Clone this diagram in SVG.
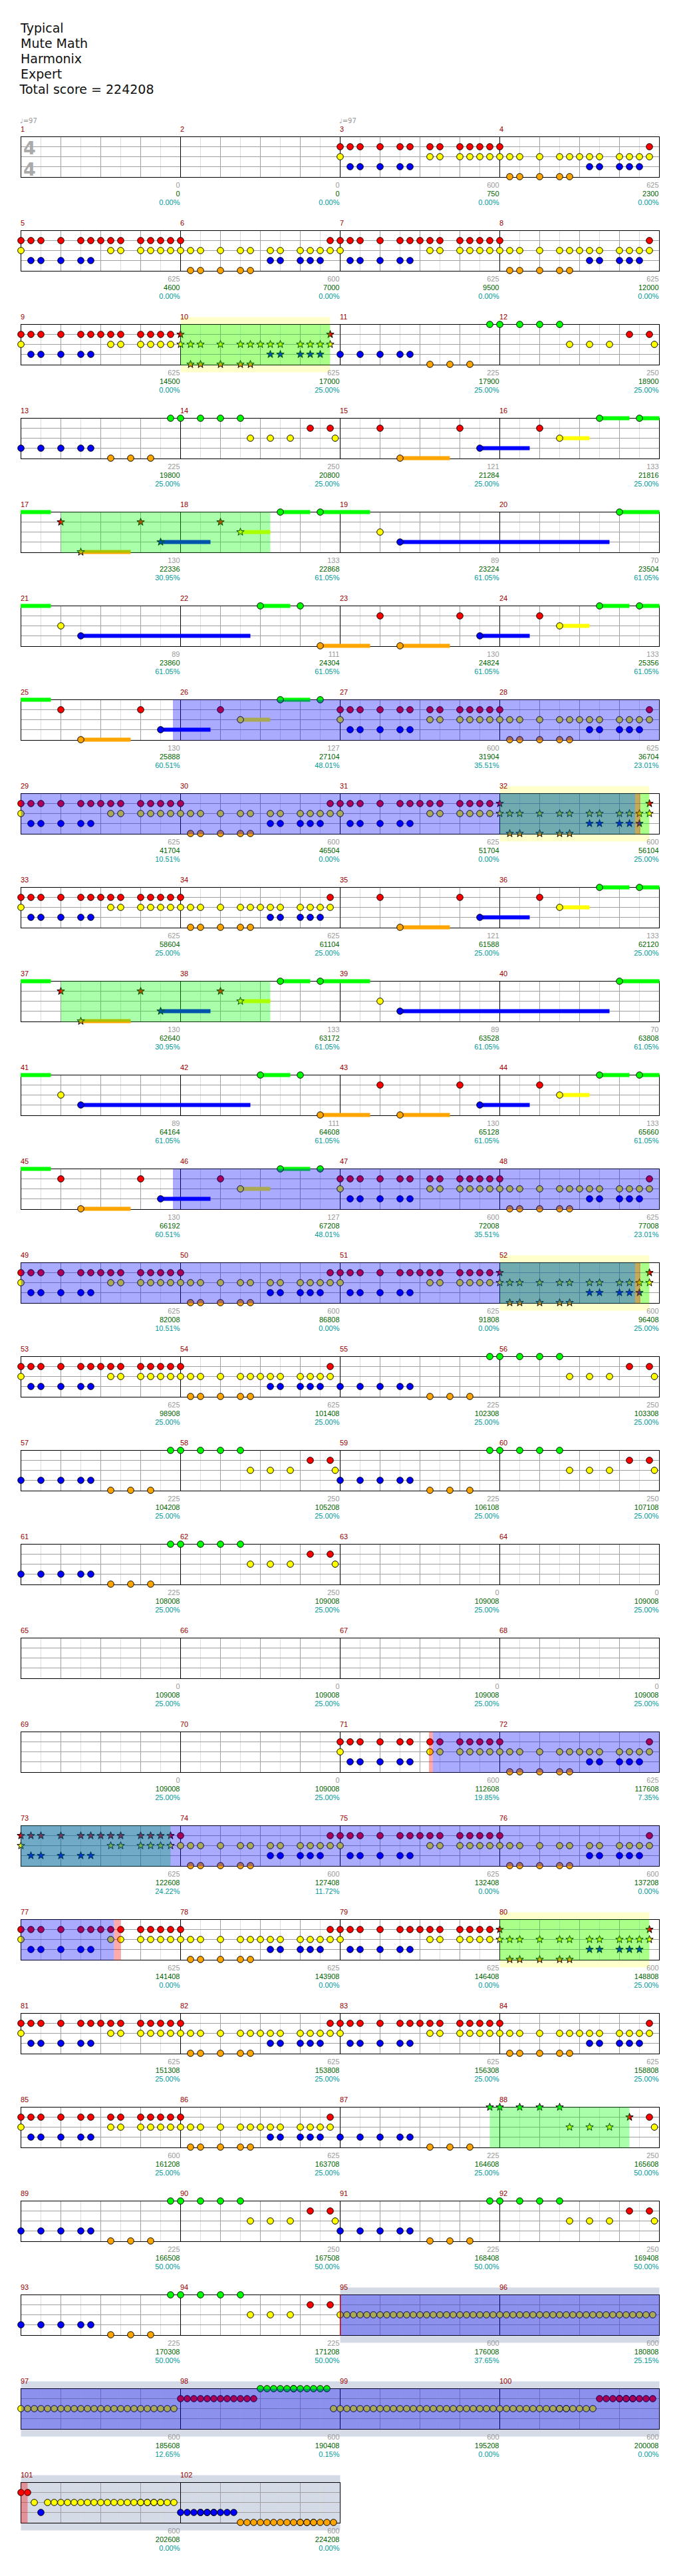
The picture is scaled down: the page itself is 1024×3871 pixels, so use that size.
<svg xmlns="http://www.w3.org/2000/svg" width="1024" height="3871" viewBox="0 0 1024 3871">
<style>
text{font-family:"Liberation Sans",Arial,sans-serif;font-size:11px}
.h{font-family:"DejaVu Sans",sans-serif;font-size:19px;fill:#111}
.tm{font-family:"DejaVu Sans",sans-serif;font-size:10px;fill:#999}
.ts{font-family:"DejaVu Sans",sans-serif;font-size:27px;font-weight:bold;fill:#aaa}
.mn{fill:#900}
.gl{fill:#999;text-anchor:end}
.sc{fill:#006400;text-anchor:end}
.pc{fill:#009999;text-anchor:end}
.lt{stroke:#ddd;stroke-width:1;fill:none}
.dk{stroke:#a0a0a0;stroke-width:1;fill:none}
.bl{stroke:#000;stroke-width:1;fill:none}
.n{stroke:#000;stroke-width:1}
.Bg{fill:#0f0}.Br{fill:#f00}.By{fill:#ff0}.Bb{fill:#00f}.Bo{fill:#ffa500}
.ov{fill:#00f;fill-opacity:.333}
.gv{fill:#0f0;fill-opacity:.333}
.pk{fill:#f00;fill-opacity:.333}
.py{fill:#ffffcc}
.gb{fill:#d4dae6}
</style>
<defs>
<circle id="g" r="4.8" class="n" fill="#0f0"/>
<circle id="r" cy="15" r="4.8" class="n" fill="#f00"/>
<circle id="y" cy="30" r="4.8" class="n" fill="#ff0"/>
<circle id="b" cy="45" r="4.8" class="n" fill="#00f"/>
<circle id="o" cy="60" r="4.8" class="n" fill="#ffa500"/>
<path id="S" d="M0-6L1.41-1.94 5.71-1.85 2.28.74 3.53 4.85 0 2.4-3.53 4.85-2.28.74-5.71-1.85-1.41-1.94Z"/>
<use id="sg" href="#S" class="n" fill="#0f0"/>
<use id="sr" href="#S" y="15" class="n" fill="#f00"/>
<use id="sy" href="#S" y="30" class="n" fill="#ff0"/>
<use id="sb" href="#S" y="45" class="n" fill="#00f"/>
<use id="so" href="#S" y="60" class="n" fill="#ffa500"/>
<g id="row">
<path class="lt" d="M61.5 0v61M121.5 0v61M181.5 0v61M241.5 0v61M301.5 0v61M361.5 0v61M421.5 0v61M481.5 0v61M541.5 0v61M601.5 0v61M661.5 0v61M721.5 0v61M781.5 0v61M841.5 0v61M901.5 0v61M961.5 0v61"/>
<path class="dk" d="M91.5 0v61M151.5 0v61M211.5 0v61M331.5 0v61M391.5 0v61M451.5 0v61M571.5 0v61M631.5 0v61M691.5 0v61M811.5 0v61M871.5 0v61M931.5 0v61M31.5 15H991.5M31.5 30H991.5M31.5 45H991.5"/>
<path class="bl" d="M271.5 0v61M511.5 0v61M751.5 0v61"/>
<rect class="bl" x="31.5" y="0" width="960" height="61"/>
</g>
<g id="row2">
<path class="lt" d="M61.5 0v61M121.5 0v61M181.5 0v61M241.5 0v61M301.5 0v61M361.5 0v61M421.5 0v61M481.5 0v61"/>
<path class="dk" d="M91.5 0v61M151.5 0v61M211.5 0v61M331.5 0v61M391.5 0v61M451.5 0v61M31.5 15H511.5M31.5 30H511.5M31.5 45H511.5"/>
<path class="bl" d="M271.5 0v61"/>
<rect class="bl" x="31.5" y="0" width="480" height="61"/>
</g>
<g id="P3"><use href="#r"/><use href="#r" x="15"/><use href="#r" x="30"/><use href="#r" x="60"/><use href="#r" x="90"/><use href="#r" x="105"/><use href="#r" x="135"/><use href="#r" x="150"/><use href="#r" x="180"/><use href="#r" x="195"/><use href="#r" x="210"/><use href="#r" x="225"/><use href="#y"/><use href="#y" x="135"/><use href="#y" x="150"/><use href="#y" x="180"/><use href="#y" x="195"/><use href="#y" x="210"/><use href="#y" x="225"/><use href="#b" x="15"/><use href="#b" x="30"/><use href="#b" x="60"/><use href="#b" x="90"/><use href="#b" x="105"/></g>
<g id="P5"><use href="#P3"/><use href="#r" x="120"/></g>
<g id="P6"><use href="#r"/><use href="#r" x="225"/><use href="#y"/><use href="#y" x="15"/><use href="#y" x="30"/><use href="#y" x="60"/><use href="#y" x="90"/><use href="#y" x="105"/><use href="#y" x="135"/><use href="#y" x="150"/><use href="#y" x="180"/><use href="#y" x="195"/><use href="#y" x="210"/><use href="#y" x="225"/><use href="#b" x="135"/><use href="#b" x="150"/><use href="#b" x="180"/><use href="#b" x="195"/><use href="#b" x="210"/><use href="#o" x="15"/><use href="#o" x="30"/><use href="#o" x="60"/><use href="#o" x="90"/><use href="#o" x="105"/></g>
<g id="P4"><use href="#P6"/><use href="#y" x="120"/></g>
<g id="P6S"><use href="#sr"/><use href="#sr" x="225"/><use href="#sy"/><use href="#sy" x="15"/><use href="#sy" x="30"/><use href="#sy" x="60"/><use href="#sy" x="90"/><use href="#sy" x="105"/><use href="#sy" x="135"/><use href="#sy" x="150"/><use href="#sy" x="180"/><use href="#sy" x="195"/><use href="#sy" x="210"/><use href="#sy" x="225"/><use href="#sb" x="135"/><use href="#sb" x="150"/><use href="#sb" x="180"/><use href="#sb" x="195"/><use href="#sb" x="210"/><use href="#so" x="15"/><use href="#so" x="30"/><use href="#so" x="60"/><use href="#so" x="90"/><use href="#so" x="105"/></g>
<g id="P4S"><use href="#P6S"/><use href="#sy" x="120"/></g>
<g id="P5S"><use href="#sr"/><use href="#sr" x="15"/><use href="#sr" x="30"/><use href="#sr" x="60"/><use href="#sr" x="90"/><use href="#sr" x="105"/><use href="#sr" x="120"/><use href="#sr" x="135"/><use href="#sr" x="150"/><use href="#sr" x="180"/><use href="#sr" x="195"/><use href="#sr" x="210"/><use href="#sr" x="225"/><use href="#sy"/><use href="#sy" x="135"/><use href="#sy" x="150"/><use href="#sy" x="180"/><use href="#sy" x="195"/><use href="#sy" x="210"/><use href="#sy" x="225"/><use href="#sb" x="15"/><use href="#sb" x="30"/><use href="#sb" x="60"/><use href="#sb" x="90"/><use href="#sb" x="105"/></g>
<g id="A0"><use href="#b"/><use href="#b" x="30"/><use href="#b" x="60"/><use href="#b" x="90"/><use href="#b" x="105"/><use href="#o" x="135"/><use href="#o" x="165"/><use href="#o" x="195"/></g>
<g id="A"><use href="#A0"/><use href="#g" x="225"/></g>
<g id="AS"><use href="#A0"/><use href="#sg" x="225"/></g>
<g id="B2"><use href="#g"/><use href="#g" x="30"/><use href="#g" x="60"/><use href="#g" x="90"/><use href="#y" x="105"/><use href="#y" x="135"/><use href="#y" x="165"/><use href="#r" x="195"/><use href="#r" x="225"/></g>
<g id="B"><use href="#B2"/><use href="#y" x="232.5"/></g>
<g id="BS"><use href="#sg"/><use href="#sg" x="30"/><use href="#sg" x="60"/><use href="#sg" x="90"/><use href="#sy" x="105"/><use href="#sy" x="135"/><use href="#sy" x="165"/><use href="#sr" x="195"/><use href="#r" x="225"/><use href="#y" x="232.5"/></g>
<g id="C"><rect class="Bo" x="90" y="57" width="75" height="6"/><rect class="Bb" x="210" y="42" width="75" height="6"/><use href="#r" x="60"/><use href="#o" x="90"/><use href="#r" x="180"/><use href="#b" x="210"/></g>
<g id="Cg"><rect class="Bg" x="-0.5" y="-3" width="45.5" height="6"/><use href="#C"/></g>
<g id="D"><rect class="By" x="90" y="27" width="45" height="6"/><rect class="Bg" x="150" y="-3" width="45" height="6"/><rect class="Bg" x="210" y="-3" width="30" height="6"/><use href="#r" x="60"/><use href="#y" x="90"/><use href="#g" x="150"/><use href="#g" x="210"/></g>
<g id="E"><rect class="Bg" x="-0.5" y="-3" width="45.5" height="6"/><rect class="Bo" x="90" y="57" width="75" height="6"/><rect class="Bb" x="210" y="42" width="75" height="6"/><use href="#sr" x="60"/><use href="#so" x="90"/><use href="#sr" x="180"/><use href="#sb" x="210"/></g>
<g id="F"><rect class="By" x="90" y="27" width="45" height="6"/><rect class="Bg" x="150" y="-3" width="45" height="6"/><rect class="Bg" x="210" y="-3" width="75" height="6"/><use href="#sr" x="60"/><use href="#sy" x="90"/><use href="#g" x="150"/><use href="#g" x="210"/></g>
<g id="G"><rect class="Bb" x="90" y="42" width="315" height="6"/><use href="#y" x="60"/><use href="#b" x="90"/></g>
<g id="H"><rect class="Bg" x="180" y="-3" width="60" height="6"/><use href="#g" x="180"/></g>
<g id="I"><rect class="Bg" x="-0.5" y="-3" width="45.5" height="6"/><rect class="Bb" x="90" y="42" width="255" height="6"/><use href="#y" x="60"/><use href="#b" x="90"/></g>
<g id="J"><rect class="Bg" x="120" y="-3" width="45" height="6"/><rect class="Bo" x="210" y="57" width="75" height="6"/><use href="#g" x="120"/><use href="#g" x="180"/><use href="#o" x="210"/></g>
<g id="K"><rect class="By" x="90" y="27" width="45" height="6"/><rect class="Bg" x="150" y="-3" width="45" height="6"/><use href="#r" x="60"/><use href="#y" x="90"/><use href="#g" x="150"/><use href="#g" x="210"/></g>
<g id="Y6"><use href="#y"/><use href="#y" x="10"/><use href="#y" x="20"/><use href="#y" x="30"/><use href="#y" x="40"/><use href="#y" x="50"/></g>
<g id="R6"><use href="#r"/><use href="#r" x="10"/><use href="#r" x="20"/><use href="#r" x="30"/><use href="#r" x="40"/><use href="#r" x="50"/></g>
<g id="G6"><use href="#g"/><use href="#g" x="10"/><use href="#g" x="20"/><use href="#g" x="30"/><use href="#g" x="40"/><use href="#g" x="50"/></g>
<g id="B6"><use href="#b"/><use href="#b" x="10"/><use href="#b" x="20"/><use href="#b" x="30"/><use href="#b" x="40"/><use href="#b" x="50"/></g>
<g id="O6"><use href="#o"/><use href="#o" x="10"/><use href="#o" x="20"/><use href="#o" x="30"/><use href="#o" x="40"/><use href="#o" x="50"/></g>
</defs>
<rect width="1024" height="3871" fill="#fff"/>
<g id="header">
<text class="h" x="31" y="48.5">Typical</text>
<text class="h" x="31" y="71.5">Mute Math</text>
<text class="h" x="31" y="94.5">Harmonix</text>
<text class="h" x="31" y="117.5">Expert</text>
<text class="h" x="29.5" y="140.5">Total score = 224208</text>
<text class="tm" x="30" y="185">♩=97</text>
<text class="tm" x="510" y="185">♩=97</text>
</g>
<g id="backgrounds">
<rect class="py" x="271.5" y="476.5" width="225" height="83"/>
<rect class="py" x="751.5" y="1181.5" width="225" height="83"/>
<rect class="py" x="751.5" y="1886.5" width="225" height="83"/>
<rect class="py" x="751.5" y="2873.5" width="225" height="83"/>
<rect class="gb" x="511.5" y="3437.5" width="480" height="83"/>
<rect class="gb" x="31.5" y="3578.5" width="960" height="83"/>
<rect class="gb" x="31.5" y="3719.5" width="480" height="83"/>
</g>
<g id="staves">
<use href="#row" y="205.5"/><use href="#row" y="346.5"/><use href="#row" y="487.5"/><use href="#row" y="628.5"/><use href="#row" y="769.5"/><use href="#row" y="910.5"/><use href="#row" y="1051.5"/><use href="#row" y="1192.5"/><use href="#row" y="1333.5"/><use href="#row" y="1474.5"/><use href="#row" y="1615.5"/><use href="#row" y="1756.5"/><use href="#row" y="1897.5"/><use href="#row" y="2038.5"/><use href="#row" y="2179.5"/><use href="#row" y="2320.5"/><use href="#row" y="2461.5"/><use href="#row" y="2602.5"/><use href="#row" y="2743.5"/><use href="#row" y="2884.5"/><use href="#row" y="3025.5"/><use href="#row" y="3166.5"/><use href="#row" y="3307.5"/><use href="#row" y="3448.5"/><use href="#row" y="3589.5"/><use href="#row2" y="3730.5"/>
<text class="ts" x="35" y="231.5">4</text>
<text class="ts" x="35" y="263.5">4</text>
</g>
<g id="notes">
<use href="#P3" x="511.5" y="205.5"/><use href="#P4" x="751.5" y="205.5"/>
<use href="#P5" x="31.5" y="346.5"/><use href="#P6" x="271.5" y="346.5"/><use href="#P5" x="511.5" y="346.5"/><use href="#P4" x="751.5" y="346.5"/>
<use href="#P5" x="31.5" y="487.5"/><use href="#P4S" x="271.5" y="487.5"/><use href="#A" x="511.5" y="487.5"/><use href="#B" x="751.5" y="487.5"/>
<use href="#A" x="31.5" y="628.5"/><use href="#B" x="271.5" y="628.5"/><use href="#C" x="511.5" y="628.5"/><use href="#D" x="751.5" y="628.5"/>
<use href="#E" x="31.5" y="769.5"/><use href="#F" x="271.5" y="769.5"/><use href="#G" x="511.5" y="769.5"/><use href="#H" x="751.5" y="769.5"/>
<use href="#I" x="31.5" y="910.5"/><use href="#J" x="271.5" y="910.5"/><use href="#C" x="511.5" y="910.5"/><use href="#D" x="751.5" y="910.5"/>
<use href="#Cg" x="31.5" y="1051.5"/><use href="#K" x="271.5" y="1051.5"/><use href="#P3" x="511.5" y="1051.5"/><use href="#P4" x="751.5" y="1051.5"/>
<use href="#P5" x="31.5" y="1192.5"/><use href="#P6" x="271.5" y="1192.5"/><use href="#P5" x="511.5" y="1192.5"/><use href="#P6S" x="751.5" y="1192.5"/>
<use href="#P5" x="31.5" y="1333.5"/><use href="#P4" x="271.5" y="1333.5"/><use href="#C" x="511.5" y="1333.5"/><use href="#D" x="751.5" y="1333.5"/>
<use href="#E" x="31.5" y="1474.5"/><use href="#F" x="271.5" y="1474.5"/><use href="#G" x="511.5" y="1474.5"/><use href="#H" x="751.5" y="1474.5"/>
<use href="#I" x="31.5" y="1615.5"/><use href="#J" x="271.5" y="1615.5"/><use href="#C" x="511.5" y="1615.5"/><use href="#D" x="751.5" y="1615.5"/>
<use href="#Cg" x="31.5" y="1756.5"/><use href="#K" x="271.5" y="1756.5"/><use href="#P3" x="511.5" y="1756.5"/><use href="#P4" x="751.5" y="1756.5"/>
<use href="#P5" x="31.5" y="1897.5"/><use href="#P6" x="271.5" y="1897.5"/><use href="#P5" x="511.5" y="1897.5"/><use href="#P6S" x="751.5" y="1897.5"/>
<use href="#P5" x="31.5" y="2038.5"/><use href="#P4" x="271.5" y="2038.5"/><use href="#A" x="511.5" y="2038.5"/><use href="#B" x="751.5" y="2038.5"/>
<use href="#A" x="31.5" y="2179.5"/><use href="#B" x="271.5" y="2179.5"/><use href="#A" x="511.5" y="2179.5"/><use href="#B" x="751.5" y="2179.5"/>
<use href="#A" x="31.5" y="2320.5"/><use href="#B" x="271.5" y="2320.5"/>
<use href="#P3" x="511.5" y="2602.5"/><use href="#P4" x="751.5" y="2602.5"/>
<use href="#P5S" x="31.5" y="2743.5"/><use href="#P6" x="271.5" y="2743.5"/><use href="#P5" x="511.5" y="2743.5"/><use href="#P6" x="751.5" y="2743.5"/>
<use href="#P5" x="31.5" y="2884.5"/><use href="#P4" x="271.5" y="2884.5"/><use href="#P5" x="511.5" y="2884.5"/><use href="#P6S" x="751.5" y="2884.5"/>
<use href="#P5" x="31.5" y="3025.5"/><use href="#P4" x="271.5" y="3025.5"/><use href="#P5" x="511.5" y="3025.5"/><use href="#P4" x="751.5" y="3025.5"/>
<use href="#P3" x="31.5" y="3166.5"/><use href="#P4" x="271.5" y="3166.5"/><use href="#AS" x="511.5" y="3166.5"/><use href="#BS" x="751.5" y="3166.5"/>
<use href="#A" x="31.5" y="3307.5"/><use href="#B" x="271.5" y="3307.5"/><use href="#A" x="511.5" y="3307.5"/><use href="#B" x="751.5" y="3307.5"/>
<use href="#A" x="31.5" y="3448.5"/><use href="#B2" x="271.5" y="3448.5"/>
<use href="#Y6" x="511.5" y="3448.5"/><use href="#Y6" x="571.5" y="3448.5"/><use href="#Y6" x="631.5" y="3448.5"/><use href="#Y6" x="691.5" y="3448.5"/><use href="#Y6" x="751.5" y="3448.5"/><use href="#Y6" x="811.5" y="3448.5"/><use href="#Y6" x="871.5" y="3448.5"/><use href="#Y6" x="931.5" y="3448.5"/>
<use href="#Y6" x="31.5" y="3589.5"/><use href="#Y6" x="91.5" y="3589.5"/><use href="#Y6" x="151.5" y="3589.5"/><use href="#Y6" x="211.5" y="3589.5"/>
<use href="#R6" x="271.5" y="3589.5"/><use href="#R6" x="331.5" y="3589.5"/>
<use href="#G6" x="391.5" y="3589.5"/><use href="#G6" x="441.5" y="3589.5"/>
<use href="#Y6" x="501.5" y="3589.5"/><use href="#Y6" x="561.5" y="3589.5"/><use href="#Y6" x="621.5" y="3589.5"/><use href="#Y6" x="681.5" y="3589.5"/><use href="#Y6" x="741.5" y="3589.5"/><use href="#Y6" x="801.5" y="3589.5"/><use href="#Y6" x="841.5" y="3589.5"/>
<use href="#R6" x="901.5" y="3589.5"/><use href="#R6" x="931.5" y="3589.5"/>
<use href="#r" x="31.5" y="3730.5"/><use href="#r" x="41.5" y="3730.5"/><use href="#y" x="51.5" y="3730.5"/><use href="#b" x="61.5" y="3730.5"/>
<use href="#Y6" x="71.5" y="3730.5"/><use href="#Y6" x="131.5" y="3730.5"/><use href="#Y6" x="191.5" y="3730.5"/><use href="#Y6" x="211.5" y="3730.5"/>
<use href="#B6" x="271.5" y="3730.5"/><use href="#B6" x="301.5" y="3730.5"/>
<use href="#O6" x="361.5" y="3730.5"/><use href="#O6" x="421.5" y="3730.5"/><use href="#O6" x="451.5" y="3730.5"/>
</g>
<g id="overlays">
<rect class="gv" x="271.5" y="487.5" width="225" height="61"/>
<rect class="gv" x="91.5" y="769.5" width="315" height="61"/>
<rect class="gv" x="751.5" y="1192.5" width="225" height="61"/>
<rect class="gv" x="91.5" y="1474.5" width="315" height="61"/>
<rect class="gv" x="751.5" y="1897.5" width="225" height="61"/>
<rect class="gv" x="31.5" y="2743.5" width="225" height="61"/>
<rect class="gv" x="751.5" y="2884.5" width="225" height="61"/>
<rect class="gv" x="736.5" y="3166.5" width="210" height="61"/>
<rect class="ov" x="260" y="1051.5" width="731.5" height="61"/>
<rect class="ov" x="31.5" y="1192.5" width="923.5" height="61"/>
<rect class="ov" x="260" y="1756.5" width="731.5" height="61"/>
<rect class="ov" x="31.5" y="1897.5" width="923.5" height="61"/>
<rect class="ov" x="651" y="2602.5" width="340.5" height="61"/>
<rect class="ov" x="31.5" y="2743.5" width="960" height="61"/>
<rect class="ov" x="31.5" y="2884.5" width="140" height="61"/>
<rect class="ov" x="511.5" y="3448.5" width="480" height="61"/>
<rect class="ov" x="31.5" y="3589.5" width="960" height="61"/>
<rect class="pk" x="955" y="1192.5" width="8" height="61"/>
<rect class="pk" x="955" y="1897.5" width="8" height="61"/>
<rect class="pk" x="645" y="2602.5" width="6" height="61"/>
<rect class="pk" x="171.5" y="2884.5" width="10" height="61"/>
<rect class="pk" x="31.5" y="3730.5" width="10" height="61"/>
<rect fill="#d00" x="511" y="3448.5" width="1.5" height="61"/>
</g>
<g id="labels">
<g transform="translate(0,205.5)"><text class="mn" y="-7.5"><tspan x="31">1</tspan><tspan x="271">2</tspan><tspan x="511">3</tspan><tspan x="751">4</tspan></text><text class="gl" y="76"><tspan x="270.5">0</tspan><tspan x="510.5">0</tspan><tspan x="750.5">600</tspan><tspan x="990.5">625</tspan></text><text class="sc" y="89.3"><tspan x="270.5">0</tspan><tspan x="510.5">0</tspan><tspan x="750.5">750</tspan><tspan x="990.5">2300</tspan></text><text class="pc" y="102.5"><tspan x="270.5">0.00%</tspan><tspan x="510.5">0.00%</tspan><tspan x="750.5">0.00%</tspan><tspan x="990.5">0.00%</tspan></text></g>
<g transform="translate(0,346.5)"><text class="mn" y="-7.5"><tspan x="31">5</tspan><tspan x="271">6</tspan><tspan x="511">7</tspan><tspan x="751">8</tspan></text><text class="gl" y="76"><tspan x="270.5">625</tspan><tspan x="510.5">600</tspan><tspan x="750.5">625</tspan><tspan x="990.5">625</tspan></text><text class="sc" y="89.3"><tspan x="270.5">4600</tspan><tspan x="510.5">7000</tspan><tspan x="750.5">9500</tspan><tspan x="990.5">12000</tspan></text><text class="pc" y="102.5"><tspan x="270.5">0.00%</tspan><tspan x="510.5">0.00%</tspan><tspan x="750.5">0.00%</tspan><tspan x="990.5">0.00%</tspan></text></g>
<g transform="translate(0,487.5)"><text class="mn" y="-7.5"><tspan x="31">9</tspan><tspan x="271">10</tspan><tspan x="511">11</tspan><tspan x="751">12</tspan></text><text class="gl" y="76"><tspan x="270.5">625</tspan><tspan x="510.5">625</tspan><tspan x="750.5">225</tspan><tspan x="990.5">250</tspan></text><text class="sc" y="89.3"><tspan x="270.5">14500</tspan><tspan x="510.5">17000</tspan><tspan x="750.5">17900</tspan><tspan x="990.5">18900</tspan></text><text class="pc" y="102.5"><tspan x="270.5">0.00%</tspan><tspan x="510.5">25.00%</tspan><tspan x="750.5">25.00%</tspan><tspan x="990.5">25.00%</tspan></text></g>
<g transform="translate(0,628.5)"><text class="mn" y="-7.5"><tspan x="31">13</tspan><tspan x="271">14</tspan><tspan x="511">15</tspan><tspan x="751">16</tspan></text><text class="gl" y="76"><tspan x="270.5">225</tspan><tspan x="510.5">250</tspan><tspan x="750.5">121</tspan><tspan x="990.5">133</tspan></text><text class="sc" y="89.3"><tspan x="270.5">19800</tspan><tspan x="510.5">20800</tspan><tspan x="750.5">21284</tspan><tspan x="990.5">21816</tspan></text><text class="pc" y="102.5"><tspan x="270.5">25.00%</tspan><tspan x="510.5">25.00%</tspan><tspan x="750.5">25.00%</tspan><tspan x="990.5">25.00%</tspan></text></g>
<g transform="translate(0,769.5)"><text class="mn" y="-7.5"><tspan x="31">17</tspan><tspan x="271">18</tspan><tspan x="511">19</tspan><tspan x="751">20</tspan></text><text class="gl" y="76"><tspan x="270.5">130</tspan><tspan x="510.5">133</tspan><tspan x="750.5">89</tspan><tspan x="990.5">70</tspan></text><text class="sc" y="89.3"><tspan x="270.5">22336</tspan><tspan x="510.5">22868</tspan><tspan x="750.5">23224</tspan><tspan x="990.5">23504</tspan></text><text class="pc" y="102.5"><tspan x="270.5">30.95%</tspan><tspan x="510.5">61.05%</tspan><tspan x="750.5">61.05%</tspan><tspan x="990.5">61.05%</tspan></text></g>
<g transform="translate(0,910.5)"><text class="mn" y="-7.5"><tspan x="31">21</tspan><tspan x="271">22</tspan><tspan x="511">23</tspan><tspan x="751">24</tspan></text><text class="gl" y="76"><tspan x="270.5">89</tspan><tspan x="510.5">111</tspan><tspan x="750.5">130</tspan><tspan x="990.5">133</tspan></text><text class="sc" y="89.3"><tspan x="270.5">23860</tspan><tspan x="510.5">24304</tspan><tspan x="750.5">24824</tspan><tspan x="990.5">25356</tspan></text><text class="pc" y="102.5"><tspan x="270.5">61.05%</tspan><tspan x="510.5">61.05%</tspan><tspan x="750.5">61.05%</tspan><tspan x="990.5">61.05%</tspan></text></g>
<g transform="translate(0,1051.5)"><text class="mn" y="-7.5"><tspan x="31">25</tspan><tspan x="271">26</tspan><tspan x="511">27</tspan><tspan x="751">28</tspan></text><text class="gl" y="76"><tspan x="270.5">130</tspan><tspan x="510.5">127</tspan><tspan x="750.5">600</tspan><tspan x="990.5">625</tspan></text><text class="sc" y="89.3"><tspan x="270.5">25888</tspan><tspan x="510.5">27104</tspan><tspan x="750.5">31904</tspan><tspan x="990.5">36704</tspan></text><text class="pc" y="102.5"><tspan x="270.5">60.51%</tspan><tspan x="510.5">48.01%</tspan><tspan x="750.5">35.51%</tspan><tspan x="990.5">23.01%</tspan></text></g>
<g transform="translate(0,1192.5)"><text class="mn" y="-7.5"><tspan x="31">29</tspan><tspan x="271">30</tspan><tspan x="511">31</tspan><tspan x="751">32</tspan></text><text class="gl" y="76"><tspan x="270.5">625</tspan><tspan x="510.5">600</tspan><tspan x="750.5">625</tspan><tspan x="990.5">600</tspan></text><text class="sc" y="89.3"><tspan x="270.5">41704</tspan><tspan x="510.5">46504</tspan><tspan x="750.5">51704</tspan><tspan x="990.5">56104</tspan></text><text class="pc" y="102.5"><tspan x="270.5">10.51%</tspan><tspan x="510.5">0.00%</tspan><tspan x="750.5">0.00%</tspan><tspan x="990.5">25.00%</tspan></text></g>
<g transform="translate(0,1333.5)"><text class="mn" y="-7.5"><tspan x="31">33</tspan><tspan x="271">34</tspan><tspan x="511">35</tspan><tspan x="751">36</tspan></text><text class="gl" y="76"><tspan x="270.5">625</tspan><tspan x="510.5">625</tspan><tspan x="750.5">121</tspan><tspan x="990.5">133</tspan></text><text class="sc" y="89.3"><tspan x="270.5">58604</tspan><tspan x="510.5">61104</tspan><tspan x="750.5">61588</tspan><tspan x="990.5">62120</tspan></text><text class="pc" y="102.5"><tspan x="270.5">25.00%</tspan><tspan x="510.5">25.00%</tspan><tspan x="750.5">25.00%</tspan><tspan x="990.5">25.00%</tspan></text></g>
<g transform="translate(0,1474.5)"><text class="mn" y="-7.5"><tspan x="31">37</tspan><tspan x="271">38</tspan><tspan x="511">39</tspan><tspan x="751">40</tspan></text><text class="gl" y="76"><tspan x="270.5">130</tspan><tspan x="510.5">133</tspan><tspan x="750.5">89</tspan><tspan x="990.5">70</tspan></text><text class="sc" y="89.3"><tspan x="270.5">62640</tspan><tspan x="510.5">63172</tspan><tspan x="750.5">63528</tspan><tspan x="990.5">63808</tspan></text><text class="pc" y="102.5"><tspan x="270.5">30.95%</tspan><tspan x="510.5">61.05%</tspan><tspan x="750.5">61.05%</tspan><tspan x="990.5">61.05%</tspan></text></g>
<g transform="translate(0,1615.5)"><text class="mn" y="-7.5"><tspan x="31">41</tspan><tspan x="271">42</tspan><tspan x="511">43</tspan><tspan x="751">44</tspan></text><text class="gl" y="76"><tspan x="270.5">89</tspan><tspan x="510.5">111</tspan><tspan x="750.5">130</tspan><tspan x="990.5">133</tspan></text><text class="sc" y="89.3"><tspan x="270.5">64164</tspan><tspan x="510.5">64608</tspan><tspan x="750.5">65128</tspan><tspan x="990.5">65660</tspan></text><text class="pc" y="102.5"><tspan x="270.5">61.05%</tspan><tspan x="510.5">61.05%</tspan><tspan x="750.5">61.05%</tspan><tspan x="990.5">61.05%</tspan></text></g>
<g transform="translate(0,1756.5)"><text class="mn" y="-7.5"><tspan x="31">45</tspan><tspan x="271">46</tspan><tspan x="511">47</tspan><tspan x="751">48</tspan></text><text class="gl" y="76"><tspan x="270.5">130</tspan><tspan x="510.5">127</tspan><tspan x="750.5">600</tspan><tspan x="990.5">625</tspan></text><text class="sc" y="89.3"><tspan x="270.5">66192</tspan><tspan x="510.5">67208</tspan><tspan x="750.5">72008</tspan><tspan x="990.5">77008</tspan></text><text class="pc" y="102.5"><tspan x="270.5">60.51%</tspan><tspan x="510.5">48.01%</tspan><tspan x="750.5">35.51%</tspan><tspan x="990.5">23.01%</tspan></text></g>
<g transform="translate(0,1897.5)"><text class="mn" y="-7.5"><tspan x="31">49</tspan><tspan x="271">50</tspan><tspan x="511">51</tspan><tspan x="751">52</tspan></text><text class="gl" y="76"><tspan x="270.5">625</tspan><tspan x="510.5">600</tspan><tspan x="750.5">625</tspan><tspan x="990.5">600</tspan></text><text class="sc" y="89.3"><tspan x="270.5">82008</tspan><tspan x="510.5">86808</tspan><tspan x="750.5">91808</tspan><tspan x="990.5">96408</tspan></text><text class="pc" y="102.5"><tspan x="270.5">10.51%</tspan><tspan x="510.5">0.00%</tspan><tspan x="750.5">0.00%</tspan><tspan x="990.5">25.00%</tspan></text></g>
<g transform="translate(0,2038.5)"><text class="mn" y="-7.5"><tspan x="31">53</tspan><tspan x="271">54</tspan><tspan x="511">55</tspan><tspan x="751">56</tspan></text><text class="gl" y="76"><tspan x="270.5">625</tspan><tspan x="510.5">625</tspan><tspan x="750.5">225</tspan><tspan x="990.5">250</tspan></text><text class="sc" y="89.3"><tspan x="270.5">98908</tspan><tspan x="510.5">101408</tspan><tspan x="750.5">102308</tspan><tspan x="990.5">103308</tspan></text><text class="pc" y="102.5"><tspan x="270.5">25.00%</tspan><tspan x="510.5">25.00%</tspan><tspan x="750.5">25.00%</tspan><tspan x="990.5">25.00%</tspan></text></g>
<g transform="translate(0,2179.5)"><text class="mn" y="-7.5"><tspan x="31">57</tspan><tspan x="271">58</tspan><tspan x="511">59</tspan><tspan x="751">60</tspan></text><text class="gl" y="76"><tspan x="270.5">225</tspan><tspan x="510.5">250</tspan><tspan x="750.5">225</tspan><tspan x="990.5">250</tspan></text><text class="sc" y="89.3"><tspan x="270.5">104208</tspan><tspan x="510.5">105208</tspan><tspan x="750.5">106108</tspan><tspan x="990.5">107108</tspan></text><text class="pc" y="102.5"><tspan x="270.5">25.00%</tspan><tspan x="510.5">25.00%</tspan><tspan x="750.5">25.00%</tspan><tspan x="990.5">25.00%</tspan></text></g>
<g transform="translate(0,2320.5)"><text class="mn" y="-7.5"><tspan x="31">61</tspan><tspan x="271">62</tspan><tspan x="511">63</tspan><tspan x="751">64</tspan></text><text class="gl" y="76"><tspan x="270.5">225</tspan><tspan x="510.5">250</tspan><tspan x="750.5">0</tspan><tspan x="990.5">0</tspan></text><text class="sc" y="89.3"><tspan x="270.5">108008</tspan><tspan x="510.5">109008</tspan><tspan x="750.5">109008</tspan><tspan x="990.5">109008</tspan></text><text class="pc" y="102.5"><tspan x="270.5">25.00%</tspan><tspan x="510.5">25.00%</tspan><tspan x="750.5">25.00%</tspan><tspan x="990.5">25.00%</tspan></text></g>
<g transform="translate(0,2461.5)"><text class="mn" y="-7.5"><tspan x="31">65</tspan><tspan x="271">66</tspan><tspan x="511">67</tspan><tspan x="751">68</tspan></text><text class="gl" y="76"><tspan x="270.5">0</tspan><tspan x="510.5">0</tspan><tspan x="750.5">0</tspan><tspan x="990.5">0</tspan></text><text class="sc" y="89.3"><tspan x="270.5">109008</tspan><tspan x="510.5">109008</tspan><tspan x="750.5">109008</tspan><tspan x="990.5">109008</tspan></text><text class="pc" y="102.5"><tspan x="270.5">25.00%</tspan><tspan x="510.5">25.00%</tspan><tspan x="750.5">25.00%</tspan><tspan x="990.5">25.00%</tspan></text></g>
<g transform="translate(0,2602.5)"><text class="mn" y="-7.5"><tspan x="31">69</tspan><tspan x="271">70</tspan><tspan x="511">71</tspan><tspan x="751">72</tspan></text><text class="gl" y="76"><tspan x="270.5">0</tspan><tspan x="510.5">0</tspan><tspan x="750.5">600</tspan><tspan x="990.5">625</tspan></text><text class="sc" y="89.3"><tspan x="270.5">109008</tspan><tspan x="510.5">109008</tspan><tspan x="750.5">112608</tspan><tspan x="990.5">117608</tspan></text><text class="pc" y="102.5"><tspan x="270.5">25.00%</tspan><tspan x="510.5">25.00%</tspan><tspan x="750.5">19.85%</tspan><tspan x="990.5">7.35%</tspan></text></g>
<g transform="translate(0,2743.5)"><text class="mn" y="-7.5"><tspan x="31">73</tspan><tspan x="271">74</tspan><tspan x="511">75</tspan><tspan x="751">76</tspan></text><text class="gl" y="76"><tspan x="270.5">625</tspan><tspan x="510.5">600</tspan><tspan x="750.5">625</tspan><tspan x="990.5">600</tspan></text><text class="sc" y="89.3"><tspan x="270.5">122608</tspan><tspan x="510.5">127408</tspan><tspan x="750.5">132408</tspan><tspan x="990.5">137208</tspan></text><text class="pc" y="102.5"><tspan x="270.5">24.22%</tspan><tspan x="510.5">11.72%</tspan><tspan x="750.5">0.00%</tspan><tspan x="990.5">0.00%</tspan></text></g>
<g transform="translate(0,2884.5)"><text class="mn" y="-7.5"><tspan x="31">77</tspan><tspan x="271">78</tspan><tspan x="511">79</tspan><tspan x="751">80</tspan></text><text class="gl" y="76"><tspan x="270.5">625</tspan><tspan x="510.5">625</tspan><tspan x="750.5">625</tspan><tspan x="990.5">600</tspan></text><text class="sc" y="89.3"><tspan x="270.5">141408</tspan><tspan x="510.5">143908</tspan><tspan x="750.5">146408</tspan><tspan x="990.5">148808</tspan></text><text class="pc" y="102.5"><tspan x="270.5">0.00%</tspan><tspan x="510.5">0.00%</tspan><tspan x="750.5">0.00%</tspan><tspan x="990.5">25.00%</tspan></text></g>
<g transform="translate(0,3025.5)"><text class="mn" y="-7.5"><tspan x="31">81</tspan><tspan x="271">82</tspan><tspan x="511">83</tspan><tspan x="751">84</tspan></text><text class="gl" y="76"><tspan x="270.5">625</tspan><tspan x="510.5">625</tspan><tspan x="750.5">625</tspan><tspan x="990.5">625</tspan></text><text class="sc" y="89.3"><tspan x="270.5">151308</tspan><tspan x="510.5">153808</tspan><tspan x="750.5">156308</tspan><tspan x="990.5">158808</tspan></text><text class="pc" y="102.5"><tspan x="270.5">25.00%</tspan><tspan x="510.5">25.00%</tspan><tspan x="750.5">25.00%</tspan><tspan x="990.5">25.00%</tspan></text></g>
<g transform="translate(0,3166.5)"><text class="mn" y="-7.5"><tspan x="31">85</tspan><tspan x="271">86</tspan><tspan x="511">87</tspan><tspan x="751">88</tspan></text><text class="gl" y="76"><tspan x="270.5">600</tspan><tspan x="510.5">625</tspan><tspan x="750.5">225</tspan><tspan x="990.5">250</tspan></text><text class="sc" y="89.3"><tspan x="270.5">161208</tspan><tspan x="510.5">163708</tspan><tspan x="750.5">164608</tspan><tspan x="990.5">165608</tspan></text><text class="pc" y="102.5"><tspan x="270.5">25.00%</tspan><tspan x="510.5">25.00%</tspan><tspan x="750.5">25.00%</tspan><tspan x="990.5">50.00%</tspan></text></g>
<g transform="translate(0,3307.5)"><text class="mn" y="-7.5"><tspan x="31">89</tspan><tspan x="271">90</tspan><tspan x="511">91</tspan><tspan x="751">92</tspan></text><text class="gl" y="76"><tspan x="270.5">225</tspan><tspan x="510.5">250</tspan><tspan x="750.5">225</tspan><tspan x="990.5">250</tspan></text><text class="sc" y="89.3"><tspan x="270.5">166508</tspan><tspan x="510.5">167508</tspan><tspan x="750.5">168408</tspan><tspan x="990.5">169408</tspan></text><text class="pc" y="102.5"><tspan x="270.5">50.00%</tspan><tspan x="510.5">50.00%</tspan><tspan x="750.5">50.00%</tspan><tspan x="990.5">50.00%</tspan></text></g>
<g transform="translate(0,3448.5)"><text class="mn" y="-7.5"><tspan x="31">93</tspan><tspan x="271">94</tspan><tspan x="511">95</tspan><tspan x="751">96</tspan></text><text class="gl" y="76"><tspan x="270.5">225</tspan><tspan x="510.5">225</tspan><tspan x="750.5">600</tspan><tspan x="990.5">600</tspan></text><text class="sc" y="89.3"><tspan x="270.5">170308</tspan><tspan x="510.5">171208</tspan><tspan x="750.5">176008</tspan><tspan x="990.5">180808</tspan></text><text class="pc" y="102.5"><tspan x="270.5">50.00%</tspan><tspan x="510.5">50.00%</tspan><tspan x="750.5">37.65%</tspan><tspan x="990.5">25.15%</tspan></text></g>
<g transform="translate(0,3589.5)"><text class="mn" y="-7.5"><tspan x="31">97</tspan><tspan x="271">98</tspan><tspan x="511">99</tspan><tspan x="751">100</tspan></text><text class="gl" y="76"><tspan x="270.5">600</tspan><tspan x="510.5">600</tspan><tspan x="750.5">600</tspan><tspan x="990.5">600</tspan></text><text class="sc" y="89.3"><tspan x="270.5">185608</tspan><tspan x="510.5">190408</tspan><tspan x="750.5">195208</tspan><tspan x="990.5">200008</tspan></text><text class="pc" y="102.5"><tspan x="270.5">12.65%</tspan><tspan x="510.5">0.15%</tspan><tspan x="750.5">0.00%</tspan><tspan x="990.5">0.00%</tspan></text></g>
<g transform="translate(0,3730.5)"><text class="mn" y="-7.5"><tspan x="31">101</tspan><tspan x="271">102</tspan></text><text class="gl" y="76"><tspan x="270.5">600</tspan><tspan x="510.5">600</tspan></text><text class="sc" y="89.3"><tspan x="270.5">202608</tspan><tspan x="510.5">224208</tspan></text><text class="pc" y="102.5"><tspan x="270.5">0.00%</tspan><tspan x="510.5">0.00%</tspan></text></g>
</g>
</svg>
